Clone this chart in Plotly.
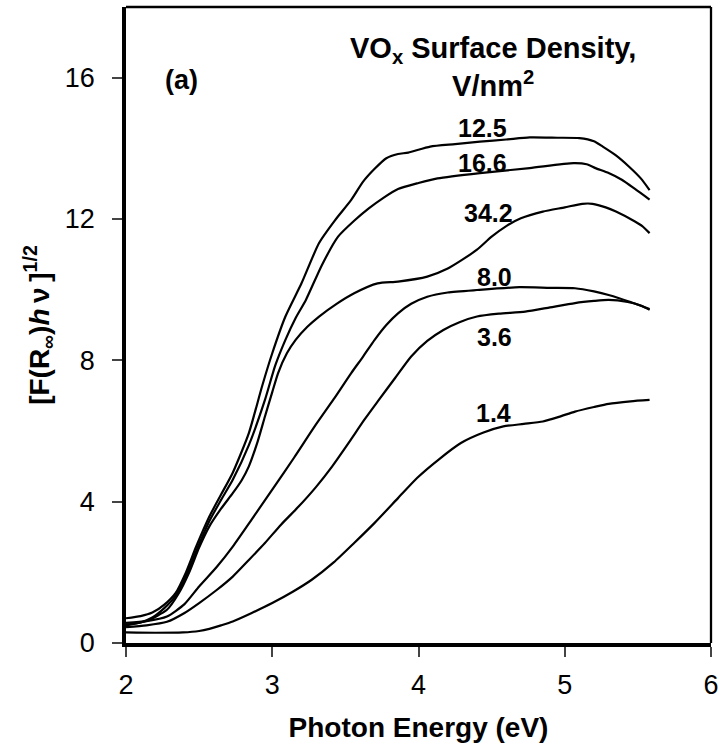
import plotly.graph_objects as go

# ---- data ----
labels = ["12.5", "16.6", "34.2", "8.0", "3.6", "1.4"]

x_125 = [2.00,2.10,2.18,2.26,2.34,2.41,2.48,2.57,2.65,2.73,2.84,2.93,3.00,3.09,3.20,3.32,3.43,3.54,3.62,3.70,3.78,3.86,3.93,4.08,4.25,4.42,4.60,4.76,4.95,5.10,5.20,5.26,5.35,5.44,5.52,5.58]
y_125 = [0.70,0.76,0.86,1.08,1.42,2.00,2.73,3.58,4.20,4.82,5.94,7.26,8.20,9.24,10.18,11.32,11.97,12.54,13.05,13.42,13.72,13.84,13.88,14.05,14.12,14.19,14.25,14.31,14.30,14.29,14.20,14.05,13.80,13.48,13.15,12.82]

x_166 = [2.00,2.10,2.18,2.26,2.34,2.41,2.48,2.57,2.65,2.73,2.84,2.95,3.02,3.09,3.16,3.23,3.34,3.45,3.56,3.66,3.76,3.86,4.00,4.13,4.42,4.76,5.06,5.15,5.21,5.30,5.39,5.48,5.58]
y_166 = [0.52,0.58,0.72,0.98,1.34,1.90,2.60,3.45,4.05,4.62,5.60,6.88,7.85,8.58,9.20,9.71,10.70,11.50,11.95,12.30,12.60,12.85,13.02,13.15,13.30,13.44,13.58,13.55,13.44,13.30,13.11,12.85,12.55]

x_342 = [2.00,2.14,2.28,2.36,2.43,2.50,2.57,2.65,2.73,2.79,2.84,2.90,2.95,3.00,3.04,3.10,3.16,3.24,3.32,3.44,3.56,3.72,3.86,4.06,4.20,4.30,4.40,4.50,4.60,4.70,4.85,5.00,5.12,5.19,5.28,5.35,5.48,5.53,5.58]
y_342 = [0.50,0.62,0.94,1.40,1.98,2.70,3.30,3.80,4.24,4.60,5.00,5.70,6.41,7.10,7.64,8.20,8.58,8.95,9.24,9.60,9.90,10.18,10.23,10.37,10.60,10.85,11.13,11.50,11.80,12.02,12.21,12.33,12.43,12.43,12.33,12.21,11.93,11.80,11.60]

x_80 = [2.00,2.14,2.28,2.40,2.50,2.62,2.73,2.86,3.00,3.15,3.29,3.42,3.54,3.62,3.70,3.78,3.86,3.95,4.06,4.20,4.40,4.69,4.90,5.07,5.20,5.30,5.45,5.58]
y_80 = [0.57,0.62,0.75,1.10,1.60,2.15,2.73,3.50,4.34,5.25,6.13,6.90,7.64,8.10,8.58,9.00,9.33,9.60,9.80,9.92,9.99,10.07,10.05,10.04,9.95,9.85,9.65,9.45]

x_36 = [2.00,2.14,2.28,2.40,2.50,2.62,2.73,2.84,2.95,3.06,3.18,3.30,3.41,3.52,3.63,3.72,3.84,3.95,4.06,4.17,4.28,4.40,4.55,4.73,4.90,5.07,5.20,5.30,5.43,5.52,5.58]
y_36 = [0.45,0.50,0.60,0.85,1.13,1.50,1.88,2.35,2.83,3.35,3.86,4.42,5.00,5.65,6.32,6.83,7.50,8.11,8.55,8.86,9.08,9.24,9.32,9.38,9.50,9.62,9.68,9.71,9.65,9.55,9.43]

x_14 = [2.00,2.20,2.39,2.50,2.57,2.65,2.73,2.86,3.00,3.14,3.27,3.42,3.56,3.70,3.86,3.99,4.14,4.29,4.44,4.58,4.72,4.85,4.96,5.07,5.20,5.30,5.45,5.58]
y_14 = [0.30,0.29,0.30,0.34,0.40,0.50,0.61,0.85,1.13,1.45,1.79,2.28,2.83,3.40,4.10,4.67,5.20,5.66,5.95,6.13,6.20,6.27,6.40,6.55,6.68,6.77,6.84,6.88]

label_x = [4.44, 4.44, 4.48, 4.52, 4.52, 4.51]
label_y = [14.58, 13.59, 12.17, 10.36, 8.66, 6.51]

x_ticks = [2, 3, 4, 5, 6]
y_ticks = [0, 4, 8, 12, 16]

FONT = "Liberation Sans, Arial, sans-serif"

fig = go.Figure()
for xs, ys, name in [(x_125, y_125, "12.5"), (x_166, y_166, "16.6"), (x_342, y_342, "34.2"),
                     (x_80, y_80, "8.0"), (x_36, y_36, "3.6"), (x_14, y_14, "1.4")]:
    fig.add_trace(go.Scatter(x=xs, y=ys, mode="lines", name=name,
                             line=dict(color="black", width=2.2, shape="spline", smoothing=0.6),
                             showlegend=False, hoverinfo="skip"))

for lx, ly, t in zip(label_x, label_y, labels):
    fig.add_annotation(x=lx, y=ly, text="<b>%s</b>" % t, showarrow=False,
                       font=dict(family=FONT, size=25, color="black"))

fig.add_annotation(x=4.51, y=16.30, text="<b>VO<sub>x</sub> Surface Density,<br>V/nm<sup>2</sup></b>",
                   showarrow=False, font=dict(family=FONT, size=29, color="black"))
fig.add_annotation(x=2.38, y=15.92, text="<b>(a)</b>", showarrow=False,
                   font=dict(family=FONT, size=27, color="black"))

# thinner top / right frame lines
fig.add_shape(type="line", xref="paper", yref="paper", x0=0, x1=1, y0=1, y1=1,
              line=dict(color="black", width=2.3))
fig.add_shape(type="line", xref="paper", yref="paper", x0=1, x1=1, y0=0, y1=1,
              line=dict(color="black", width=2.3))

fig.update_layout(
    width=726, height=756,
    margin=dict(l=126, r=10, t=7, b=113),
    paper_bgcolor="white", plot_bgcolor="white",
    font=dict(family=FONT, size=27, color="black"),
)
fig.update_xaxes(range=[2, 6], tickvals=x_ticks, ticks="outside", ticklen=10, tickwidth=2.3,
                 showgrid=False, zeroline=False, showline=True, linecolor="black", linewidth=3.5,
                 tickfont=dict(family=FONT, size=27), ticklabelstandoff=5,
                 title=dict(text="<b>Photon Energy (eV)</b>", font=dict(family=FONT, size=28), standoff=19))
fig.update_yaxes(range=[0, 18], tickvals=y_ticks, ticks="outside", ticklen=10, tickwidth=2.3,
                 showgrid=False, zeroline=False, showline=True, linecolor="black", linewidth=3.5,
                 tickfont=dict(family=FONT, size=27), ticklabelstandoff=12,
                 title=dict(text="<b>[F(R<sub>∞</sub>)<i>h</i>\u2009ν\u2009]<sup>1/2</sup></b>", font=dict(family=FONT, size=28), standoff=8))

fig.write_html("out.html")
